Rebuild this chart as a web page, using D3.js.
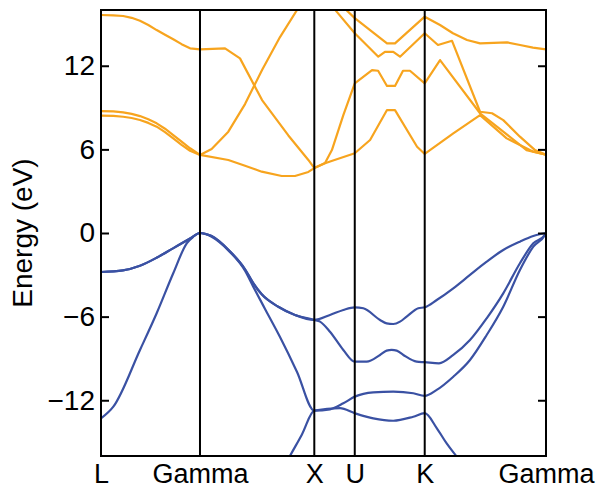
<!DOCTYPE html>
<html>
<head>
<meta charset="utf-8">
<script src="https://cdn.jsdelivr.net/npm/d3@7"></script>
<style>
  body { margin: 0; background: #fff; }
  text { font-family: "Liberation Sans", Arial, sans-serif; }
</style>
</head>
<body>
<div id="chart"></div>
<script>
// high-symmetry points along the path (path length units)
const kLabels = ["L", "Gamma", "X", "U", "K", "Gamma"];
const kTicks = [0, 0.866, 1.866, 2.220, 2.832, 3.893];
const yTicks = [-12, -6, 0, 6, 12];

// valence bands, [k, energy eV]
const vb1 = [[0, -15.95], [0.1, -16.8], [0.3, -18.5], [0.6, -20.5], [0.866, -21.5],
  [1.2, -20.5], [1.478, -18.7], [1.653, -16.0], [1.758, -14.45], [1.866, -12.75],
  [2.091, -12.57], [2.22, -12.93], [2.382, -13.3], [2.557, -13.47], [2.732, -13.18], [2.832, -12.93],
  [2.937, -14.0], [3.024, -15.1], [3.112, -16.05], [3.228, -17.3], [3.5, -20], [3.893, -21.5]];
const vb2 = [[0, -13.3], [0.108, -12.46], [0.341, -8.39], [0.487, -5.76], [0.632, -2.89], [0.75, -0.74], [0.807, -0.27], [0.866, 0],
  [0.91, -0.07], [0.968, -0.28], [1.114, -1.25], [1.26, -2.7], [1.332, -3.85], [1.435, -5.45], [1.566, -7.46], [1.715, -9.97], [1.866, -12.75],
  [2.003, -12.65], [2.12, -12.22], [2.22, -11.74], [2.382, -11.43], [2.557, -11.38], [2.732, -11.5], [2.832, -11.69],
  [2.937, -11.26], [3.082, -10.31], [3.228, -9.11], [3.374, -7.32], [3.519, -5.29], [3.665, -2.65], [3.782, -0.98], [3.884, -0.14], [3.893, 0]];
const vb3 = [[0, -2.8], [0.192, -2.68], [0.341, -2.35], [0.49, -1.76], [0.63, -1.1], [0.779, -0.4], [0.866, 0],
  [0.91, -0.05], [0.968, -0.22], [1.114, -1.2], [1.26, -2.6], [1.332, -3.6], [1.406, -4.4], [1.551, -5.29], [1.697, -5.88], [1.866, -6.24],
  [1.916, -6.36], [2.003, -7.08], [2.12, -8.39], [2.22, -9.23],
  [2.324, -9.23], [2.441, -8.75], [2.499, -8.44], [2.543, -8.39], [2.587, -8.44], [2.645, -8.75], [2.762, -9.23], [2.832, -9.27],
  [2.957, -9.35], [3.082, -8.75], [3.228, -7.68], [3.374, -6.12], [3.519, -4.33], [3.665, -2.17], [3.782, -0.74], [3.884, -0.14], [3.893, 0]];
const vb4 = [[0, -2.8], [0.192, -2.68], [0.341, -2.35], [0.49, -1.76], [0.63, -1.1], [0.779, -0.4], [0.866, 0],
  [0.91, -0.05], [0.968, -0.22], [1.114, -1.2], [1.26, -2.6], [1.332, -3.6], [1.406, -4.4], [1.551, -5.29], [1.697, -5.88], [1.866, -6.24],
  [2.003, -5.88], [2.12, -5.52], [2.22, -5.33],
  [2.295, -5.4], [2.441, -6.24], [2.499, -6.48], [2.557, -6.53], [2.616, -6.36], [2.674, -6.0], [2.776, -5.4], [2.832, -5.33],
  [2.937, -4.81], [3.082, -3.97], [3.228, -3.01], [3.374, -2.06], [3.519, -1.22], [3.665, -0.62], [3.782, -0.22], [3.893, 0]];

// conduction bands, [k, energy eV]
const cb1 = [[0, 8.42], [0.108, 8.4], [0.194, 8.34], [0.268, 8.25], [0.341, 8.11], [0.414, 7.9], [0.487, 7.63], [0.56, 7.24], [0.632, 6.79], [0.705, 6.33], [0.779, 5.9], [0.866, 5.6],
  [1.114, 5.24], [1.26, 4.83], [1.406, 4.4], [1.581, 4.09], [1.697, 4.09], [1.814, 4.38], [1.866, 4.66],
  [1.96, 5.0], [2.03, 5.2], [2.22, 5.72],
  [2.354, 6.67], [2.502, 8.82], [2.572, 8.82], [2.765, 6.19], [2.832, 5.67],
  [3.082, 7.15], [3.316, 8.46], [3.549, 6.79], [3.782, 5.83], [3.893, 5.62]];
const cb2 = [[0, 8.75], [0.108, 8.72], [0.194, 8.66], [0.268, 8.55], [0.341, 8.39], [0.414, 8.16], [0.487, 7.87], [0.56, 7.48], [0.632, 7.03], [0.705, 6.55], [0.779, 6.08], [0.866, 5.6],
  [0.968, 6.03], [1.114, 7.27], [1.26, 9.25], [1.409, 11.7], [1.566, 14.06], [1.715, 16.0], [1.866, 17.8],
  [2.065, 15.85], [2.22, 14.33],
  [2.426, 12.65], [2.484, 13.0], [2.557, 13.0], [2.616, 12.65], [2.832, 14.33],
  [2.948, 13.49], [3.071, 13.79], [3.316, 8.7], [3.421, 8.59], [3.519, 8.1], [3.665, 6.91], [3.797, 5.95], [3.893, 5.62]];
const cb3 = [[0, 15.64], [0.108, 15.62], [0.194, 15.57], [0.268, 15.44], [0.341, 15.23], [0.414, 14.92], [0.487, 14.56], [0.56, 14.22], [0.632, 13.9], [0.705, 13.55], [0.779, 13.25], [0.866, 13.18],
  [1.085, 13.25], [1.216, 12.53], [1.409, 9.54], [1.639, 7.0], [1.814, 5.24], [1.866, 4.66],
  [1.96, 5.02], [2.02, 5.95], [2.12, 8.46], [2.22, 10.74],
  [2.371, 11.69], [2.424, 11.64], [2.502, 10.55], [2.572, 10.55], [2.642, 11.64], [2.703, 11.64], [2.832, 10.74],
  [2.966, 12.41], [3.316, 8.59], [3.519, 7.27], [3.723, 5.95], [3.893, 5.62]];
const cb4 = [[0, 18.5], [0.866, 17.6], [1.866, 19.5], [2.152, 15.95], [2.22, 15.42],
  [2.502, 13.61], [2.572, 13.61], [2.832, 15.52],
  [2.966, 14.92], [3.079, 14.33], [3.202, 13.85], [3.316, 13.61], [3.552, 13.68], [3.666, 13.49], [3.779, 13.3], [3.893, 13.18]];

const valence = [vb1, vb2, vb3, vb4];
const conduction = [cb1, cb2, cb3, cb4];

const W = 601, H = 489;
const plotL = 101, plotR = 546, plotT = 10, plotB = 456;

const svg = d3.select("#chart").append("svg")
    .attr("width", W)
    .attr("height", H);

const x = d3.scaleLinear().domain([kTicks[0], kTicks[kTicks.length - 1]]).range([plotL, plotR]);
const y = d3.scaleLinear().domain([-16, 16]).range([plotB, plotT]);

svg.append("clipPath").attr("id", "plot")
  .append("rect")
    .attr("x", plotL).attr("y", plotT)
    .attr("width", plotR - plotL).attr("height", plotB - plotT);

// valence curves are smooth, conduction ones keep their kinks
const smooth = d3.line()
    .x(d => x(d[0]))
    .y(d => y(d[1]))
    .curve(d3.curveMonotoneX);
const line = d3.line()
    .x(d => x(d[0]))
    .y(d => y(d[1]));

const bands = svg.append("g").attr("clip-path", "url(#plot)");

bands.selectAll(".vb")
  .data(valence)
  .enter().append("path")
    .attr("class", "vb")
    .attr("d", smooth)
    .attr("fill", "none")
    .attr("stroke", "#3a51a3")
    .attr("stroke-width", 2.2)
    .attr("stroke-linejoin", "round");

bands.selectAll(".cb")
  .data(conduction)
  .enter().append("path")
    .attr("class", "cb")
    .attr("d", line)
    .attr("fill", "none")
    .attr("stroke", "#f7a41e")
    .attr("stroke-width", 2.2)
    .attr("stroke-linejoin", "round");

// vertical lines at the inner high-symmetry points
svg.selectAll(".kline")
  .data(kTicks.slice(1, -1))
  .enter().append("line")
    .attr("class", "kline")
    .attr("x1", d => x(d)).attr("x2", d => x(d))
    .attr("y1", plotT).attr("y2", plotB)
    .attr("stroke", "#000")
    .attr("stroke-width", 2);

// axes
const yLeft = svg.append("g")
    .attr("transform", `translate(${plotL},0)`)
    .call(d3.axisLeft(y).tickValues(yTicks).tickSizeInner(-8).tickSizeOuter(0).tickPadding(6));

const yRight = svg.append("g")
    .attr("transform", `translate(${plotR},0)`)
    .call(d3.axisRight(y).tickValues(yTicks).tickSizeInner(-8).tickSizeOuter(0).tickFormat(""));

const xAxis = svg.append("g")
    .attr("transform", `translate(0,${plotB})`)
    .call(d3.axisBottom(x).tickValues(kTicks).tickSize(0).tickPadding(8)
      .tickFormat((d, i) => kLabels[i]));

[yLeft, yRight].forEach(g => {
  g.selectAll(".tick text").style("font-size", "28px");
});
xAxis.selectAll(".tick text").style("font-size", "27px");

[yLeft, yRight, xAxis].forEach(g => {
  g.select(".domain").remove();
  g.selectAll(".tick line").attr("stroke", "#000").attr("stroke-width", 2);
  g.selectAll(".tick text")
    .attr("fill", "#000")
    .style("font-family", "'Liberation Sans', Arial, sans-serif");
});

// frame
svg.append("rect")
    .attr("x", plotL).attr("y", plotT)
    .attr("width", plotR - plotL).attr("height", plotB - plotT)
    .attr("fill", "none")
    .attr("stroke", "#000")
    .attr("stroke-width", 2);

svg.append("text")
    .attr("transform", "rotate(-90)")
    .attr("x", -(plotT + plotB) / 2)
    .attr("y", 32)
    .attr("text-anchor", "middle")
    .style("font-size", "28px")
    .text("Energy (eV)");
</script>
</body>
</html>
